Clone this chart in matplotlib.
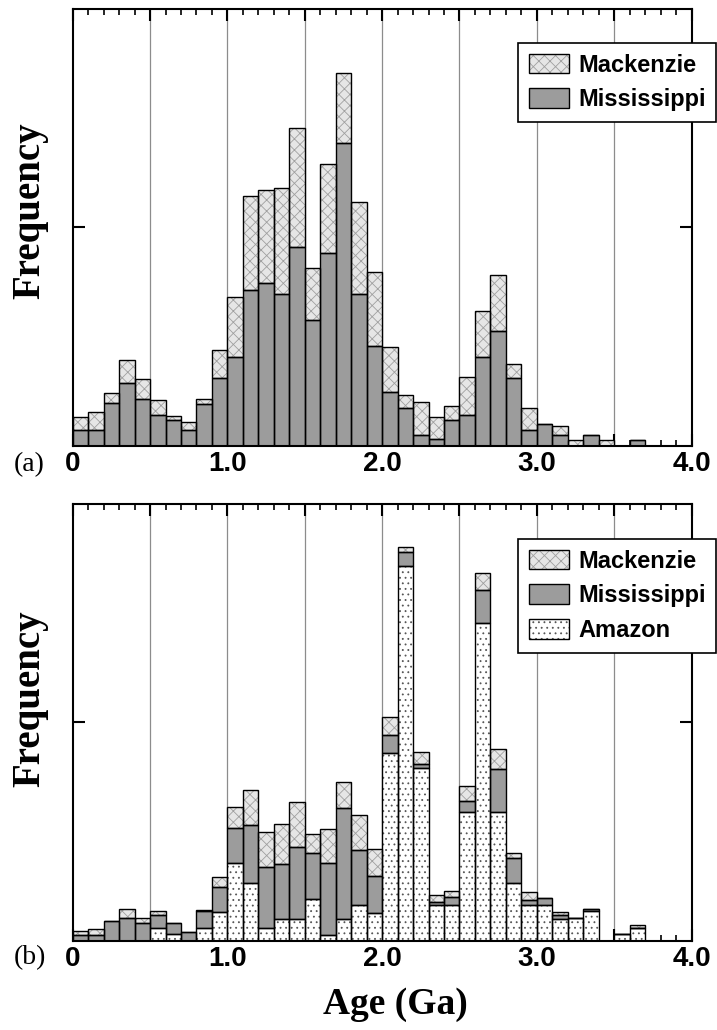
import numpy as np
import matplotlib
matplotlib.use("Agg")
import matplotlib.pyplot as plt
from matplotlib.patches import Patch
from matplotlib.legend_handler import HandlerTuple

# bin left edges (Ga), 0.1 Ga bins
bins = np.round(np.arange(0, 4.0, 0.1), 1)

# panel (a): frequency per bin (arbitrary units, axis 0-100)
a_mississippi = [3.7, 3.6, 9.7, 14.4, 10.8, 7.0, 5.9, 3.7, 9.5, 15.6,
                 20.4, 35.7, 37.2, 34.7, 45.4, 28.8, 44.2, 69.4, 34.7, 22.9,
                 12.2, 8.6, 2.4, 1.5, 5.9, 7.0, 20.2, 26.3, 15.6, 3.7,
                 4.9, 2.4, 0.0, 2.4, 0.0, 0.0, 1.3, 0.0, 0.0, 0.0]
a_mackenzie = [2.9, 4.2, 2.3, 5.2, 4.4, 3.4, 1.0, 1.8, 1.3, 6.3,
               13.6, 21.4, 21.4, 24.3, 27.4, 11.8, 20.2, 15.9, 21.2, 16.8,
               10.5, 3.1, 7.5, 5.0, 3.1, 8.8, 10.7, 12.8, 3.1, 5.0,
               0.0, 2.1, 1.2, 0.0, 1.2, 0.0, 0.0, 0.0, 0.0, 0.0]

# panel (b)
b_amazon = [0.0, 0.0, 0.0, 0.0, 0.0, 3.0, 1.5, 0.0, 3.0, 6.5,
            17.9, 13.3, 3.0, 4.9, 4.9, 9.5, 1.3, 4.9, 8.2, 6.4,
            42.9, 85.9, 39.5, 8.2, 8.2, 29.4, 72.8, 29.4, 13.3, 8.2,
            8.2, 5.0, 5.1, 6.8, 0.0, 1.5, 3.0, 0.0, 0.0, 0.0]
b_mississippi = [1.2, 1.3, 4.4, 5.1, 4.0, 2.8, 2.5, 1.9, 3.7, 5.7,
                 7.8, 13.2, 13.8, 12.7, 16.6, 10.6, 16.4, 25.6, 12.6, 8.4,
                 4.2, 3.2, 0.9, 0.6, 1.9, 2.6, 7.5, 9.9, 5.7, 1.1,
                 1.5, 0.8, 0.0, 0.5, 0.0, 0.0, 0.0, 0.0, 0.0, 0.0]
b_mackenzie = [1.1, 1.4, 0.0, 2.1, 1.3, 1.1, 0.0, 0.2, 0.4, 2.4,
               5.0, 7.9, 8.0, 9.1, 10.2, 4.3, 7.8, 5.8, 7.9, 6.3,
               4.2, 1.0, 2.9, 1.7, 1.3, 3.4, 3.8, 4.6, 1.1, 1.9,
               0.0, 0.8, 0.0, 0.0, 0.0, 0.0, 0.5, 0.0, 0.0, 0.0]

styles = {
    "Mackenzie": dict(facecolor="#e6e6e6", edgecolor="#a0a0a0", hatch="xxx"),
    "Mississippi": dict(facecolor="#9c9c9c", edgecolor="#9c9c9c", hatch=None),
    "Amazon": dict(facecolor="white", edgecolor="#555555", hatch="..."),
}

plt.rcParams["hatch.linewidth"] = 0.6
sans = ["Liberation Sans", "DejaVu Sans"]
serif = ["Liberation Serif", "DejaVu Serif"]

fig = plt.figure(figsize=(7.17, 10.30), dpi=100)
W, H = 717, 1030
ax_a = fig.add_axes([72.7 / W, 1 - 445.7 / H, 618.8 / W, 436.7 / H])
ax_b = fig.add_axes([72.7 / W, 1 - 940.7 / H, 618.8 / W, 436.7 / H])


def stack(ax, series):
    bottom = np.zeros(len(bins))
    handles = []
    for name, vals in series:
        vals = np.asarray(vals)
        st = styles[name]
        ax.bar(bins, vals, width=0.1, bottom=bottom, align="edge",
               facecolor=st["facecolor"], edgecolor=st["edgecolor"],
               hatch=st["hatch"], linewidth=0, zorder=2)
        ax.bar(bins, vals, width=0.1, bottom=bottom, align="edge",
               fill=False, edgecolor="black", linewidth=1.0, zorder=3)
        bottom = bottom + vals
        handles.append((Patch(facecolor=st["facecolor"], edgecolor=st["edgecolor"],
                              hatch=st["hatch"], linewidth=0),
                        Patch(fill=False, edgecolor="black", linewidth=1.0)))
    return handles


def style_axis(ax):
    ax.set_xlim(0, 4.0)
    ax.set_ylim(0, 100)
    ax.set_xticks([0, 0.5, 1.0, 1.5, 2.0, 2.5, 3.0, 3.5, 4.0])
    ax.set_xticklabels(["0", "", "1.0", "", "2.0", "", "3.0", "", "4.0"],
                       fontfamily=sans, fontweight="bold", fontsize=20)
    ax.set_xticks(np.arange(0, 4.0, 0.1), minor=True)
    ax.set_yticks([50])
    ax.set_yticklabels([])
    ax.tick_params(axis="x", which="major", direction="in", top=True, bottom=True,
                   length=8.5, width=1.5, pad=4)
    ax.tick_params(axis="x", which="minor", direction="in", top=True, bottom=True,
                   length=4.3, width=1.2)
    ax.tick_params(axis="y", direction="in", left=True, right=True, length=8.5, width=1.5)
    for s in ax.spines.values():
        s.set_linewidth(1.5)
    for x in [0.5, 1.0, 1.5, 2.0, 2.5, 3.0, 3.5]:
        ax.axvline(x, color="0.55", linewidth=0.9, zorder=1)


ha = stack(ax_a, [("Mississippi", a_mississippi), ("Mackenzie", a_mackenzie)])
hb = stack(ax_b, [("Amazon", b_amazon), ("Mississippi", b_mississippi),
                  ("Mackenzie", b_mackenzie)])
style_axis(ax_a)
style_axis(ax_b)

leg_kw = dict(loc="upper left", bbox_transform=fig.transFigure, borderaxespad=0,
              fancybox=False, edgecolor="black", framealpha=1,
              prop=dict(family=sans, weight="bold", size=17),
              handlelength=1.7, handleheight=0.9, handletextpad=0.4,
              labelspacing=0.5, borderpad=0.45,
              handler_map={tuple: HandlerTuple(ndivide=1)})
la = ax_a.legend([ha[1], ha[0]], ["Mackenzie", "Mississippi"],
                 bbox_to_anchor=(518 / W, 1 - 43 / H), **leg_kw)
lb = ax_b.legend([hb[2], hb[1], hb[0]], ["Mackenzie", "Mississippi", "Amazon"],
                 bbox_to_anchor=(518 / W, 1 - 539 / H), **leg_kw)
for lg in (la, lb):
    lg.get_frame().set_linewidth(1.2)
    lg.set_zorder(5)

fig.text(30 / W, 1 - 211 / H, "Frequency", rotation=90, ha="center", va="center",
         family=serif, weight="bold", fontsize=28)
fig.text(30 / W, 1 - 699 / H, "Frequency", rotation=90, ha="center", va="center",
         family=serif, weight="bold", fontsize=28)
fig.text(14 / W, 1 - 465 / H, "(a)", ha="left", va="center", family=serif, fontsize=20)
fig.text(14 / W, 1 - 958 / H, "(b)", ha="left", va="center", family=serif, fontsize=20)
fig.text(395 / W, 1 - 1005 / H, "Age (Ga)", ha="center", va="center",
         family=serif, weight="bold", fontsize=27)

fig.savefig("out.png", dpi=100)
